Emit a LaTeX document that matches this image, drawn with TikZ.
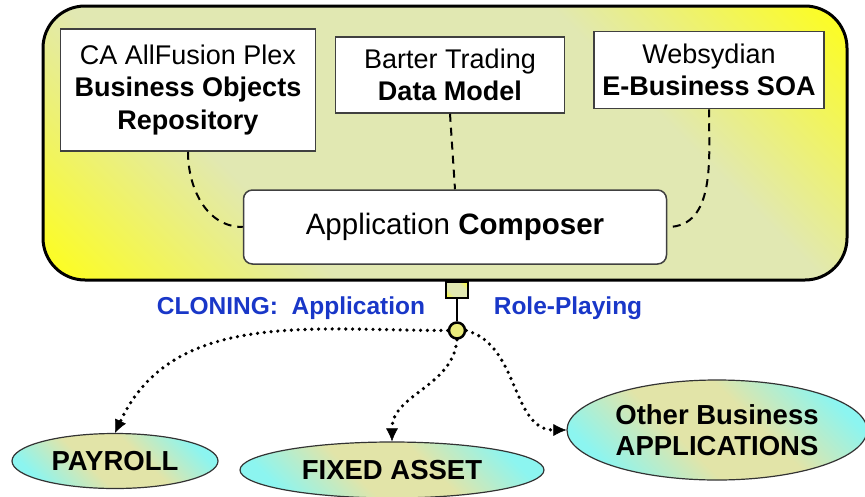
\documentclass[tikz,border=0pt]{standalone}
\usepackage{fontspec}
\setmainfont{Liberation Sans}
\usetikzlibrary{arrows.meta}
\usetikzlibrary{positioning,shapes}
\usepackage{xcolor}

\definecolor{Lemon}{RGB}{255,255,20}
\definecolor{PaleOlive}{RGB}{225,232,178}
\definecolor{Aqua}{RGB}{140,245,240}
\definecolor{Khaki}{RGB}{226,228,168}
\definecolor{CloneBlue}{RGB}{25,55,200}

\pgfdeclareverticalshading{panelshade}{100bp}{color(0bp)=(Lemon); color(14bp)=(Lemon); color(34bp)=(PaleOlive); color(66bp)=(PaleOlive); color(86bp)=(Lemon); color(100bp)=(Lemon)}
\pgfdeclareverticalshading{appshade}{100bp}{color(0bp)=(Aqua); color(24bp)=(Aqua); color(42bp)=(Khaki); color(58bp)=(Khaki); color(76bp)=(Aqua); color(100bp)=(Aqua)}

\begin{document}
\begin{tikzpicture} [x=1pt, y=-1pt, line width=1.5pt, inner sep=0pt,
    panel/.style={draw=black, line width=3pt, rounded corners=42pt, shading=panelshade, shading angle=-45},
    box/.style={draw=black!75, fill=white, align=center, font=\fontsize{27}{32.5}\selectfont},
    app/.style={ellipse, draw=black!80, line width=1.2pt, shading=appshade, shading angle=-45, align=center, font=\fontsize{27.5}{31}\selectfont\bfseries},
    tag/.style={text=CloneBlue, font=\fontsize{24.5}{28}\selectfont\bfseries},
    link/.style={line width=2pt, dash pattern=on 8pt off 6pt},
    clone/.style={line width=3.6pt, line cap=round, dash pattern=on 0pt off 6.8pt, -{Latex[length=13pt,width=12pt,line width=0.5pt]}}]

  \useasboundingbox (0,0) rectangle (865,496);

  \node[panel] (0) [minimum width=804pt, minimum height=274pt] at (445,143) {};

  \node[box] (1) [minimum width=255pt, minimum height=122pt] at (188,90) {CA AllFusion Plex\\\textbf{Business Objects}\\\textbf{Repository}};
  \node[box] (2) [minimum width=229pt, minimum height=76pt] at (450,75) {Barter Trading\\\textbf{Data Model}};
  \node[box] (3) [minimum width=230pt, minimum height=77pt] at (709,70) {Websydian\\\textbf{E-Business SOA}};
  \node[box] (4) [rounded corners=9pt, minimum width=423pt, minimum height=74pt, font=\fontsize{29.5}{34}\selectfont] at (455,227) {Application \textbf{Composer}};

  \node (5) [draw, line width=2.5pt, minimum width=22pt, minimum height=16pt, shading=panelshade, shading angle=-45] at (457,290) {};
  \node (6) [circle, draw, line width=2.5pt, fill=Khaki!70!Lemon, minimum size=16pt, below=22pt of 5] {};

  \node[tag] (10) at (291,308) {CLONING:~~Application};
  \node[tag] (11) at (568,308) {Role-Playing};

  \node[app] (7) [minimum width=206pt, minimum height=55pt] at (115,461) {PAYROLL};
  \node[app] (8) [minimum width=304pt, minimum height=56pt] at (392,470) {FIXED ASSET};
  \node[app] (9) [minimum width=300pt, minimum height=100pt] at (717,430) {Other Business\\APPLICATIONS};

  \path[link]
    (1.south) edge [out=-90, in=180] (4.west)
    (2.south) edge (4.north)
    (3.south) edge [out=-90, in=0] (4.east);

  \draw[line width=2.5pt] (5) -- (6);

  \path[clone]
    (6.west) edge [out=180, in=65] (7.north)
    (6.south) edge [out=-95, in=90] (8.north)
    (6.east) edge [out=-15, in=180] (9.west);
\end{tikzpicture}
\end{document}
